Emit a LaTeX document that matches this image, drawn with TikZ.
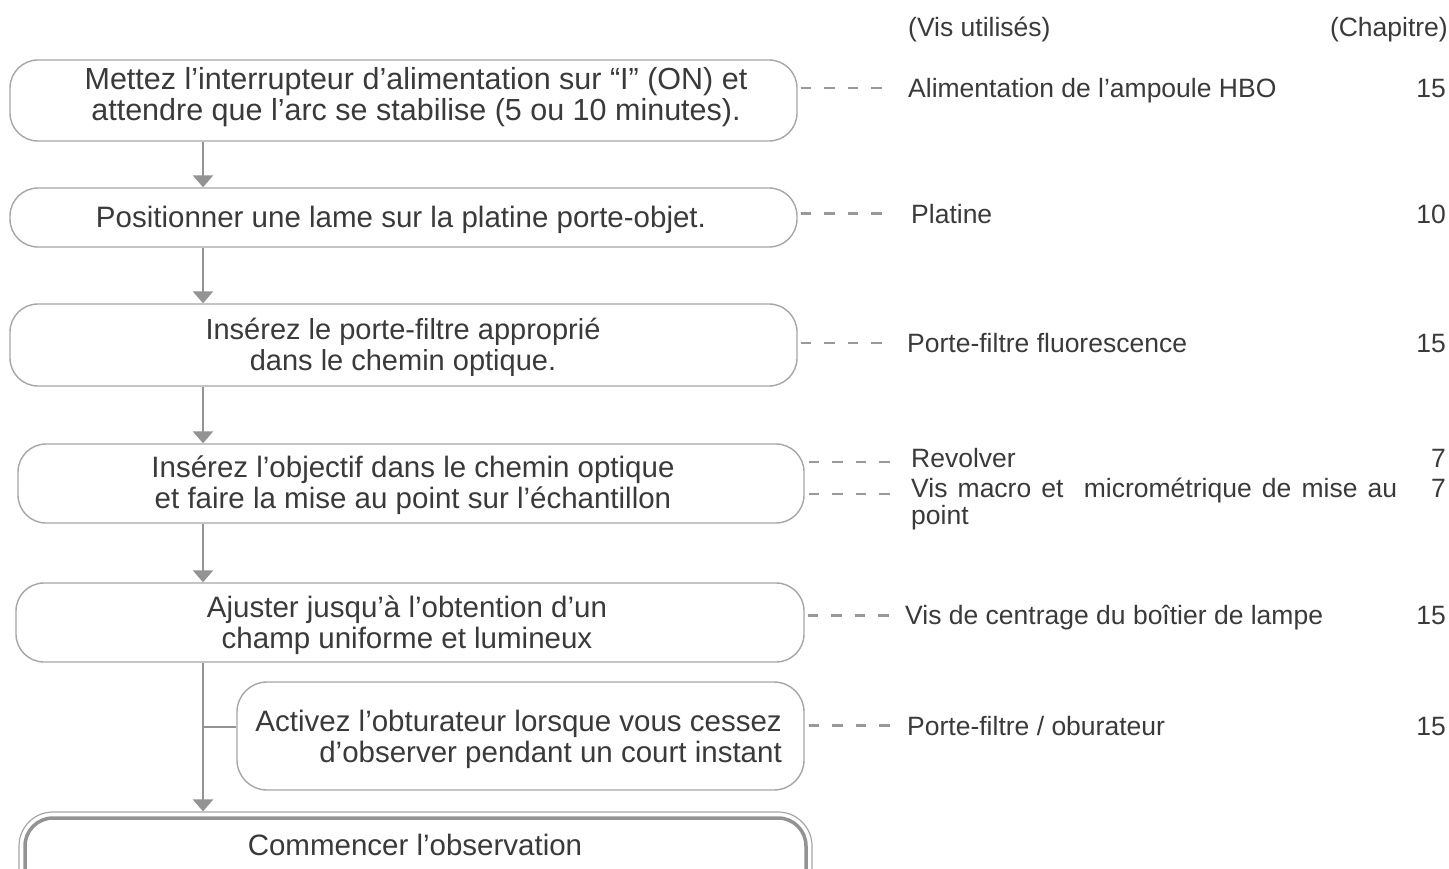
\documentclass[tikz,border=0pt]{standalone}
\usepackage{fontspec}
\setmainfont{Liberation Sans}
\usetikzlibrary{arrows.meta}
\definecolor{txt}{HTML}{3A3A3A}
\definecolor{boxline}{HTML}{A6A6A6}
\definecolor{arrcol}{HTML}{939393}
\definecolor{dashcol}{HTML}{999999}
\begin{document}
\begin{tikzpicture}[x=1pt,y=-1pt,
  box/.style={draw=boxline, line width=1.4pt, rounded corners=28pt, inner sep=0pt},
  lefttxt/.style={text=txt, font=\fontsize{29.5}{31}\selectfont, align=center, inner sep=0pt},
  onetxt/.style={lefttxt, text height=21.5pt, text depth=6pt},
  lbl/.style={text=txt, font=\fontsize{26.5}{29}\selectfont, inner sep=0pt, anchor=west, text height=19.5pt, text depth=5.5pt},
  chap/.style={lbl, anchor=east},
  flow/.style={draw=arrcol, line width=2.5pt, -{Triangle[width=20pt,length=12pt]}},
  flowline/.style={draw=arrcol, line width=2.5pt},
  link/.style={draw=dashcol, line width=2.6pt, dash pattern=on 10.5pt off 13pt}
]
\useasboundingbox (0,0) rectangle (1449,869);
\clip (0,0) rectangle (1449,869);
\fill[white] (0,0) rectangle (1449,869);

% boxes
\node[box, minimum width=787pt, minimum height=81pt] (b1) at (403.5,100.5) {};
\node[box, minimum width=787pt, minimum height=59pt] (b2) at (403.5,217.5) {};
\node[box, minimum width=787pt, minimum height=82pt] (b3) at (403.5,345) {};
\node[box, minimum width=786pt, minimum height=79pt] (b4) at (411,483.5) {};
\node[box, minimum width=788pt, minimum height=79pt] (b5) at (410,622.5) {};
\node[box, minimum width=567pt, minimum height=108pt, rounded corners=30pt] (b6) at (520.5,736) {};
\node[box, line width=1.2pt, minimum width=793pt, minimum height=100pt, rounded corners=34pt] (b7) at (415.5,862) {};
\node[draw=arrcol, line width=3.5pt, rounded corners=28pt, inner sep=0pt, minimum width=781pt, minimum height=90pt] (b7in) at (415.5,863) {};

% box texts
\node[lefttxt, font=\fontsize{30.5}{31}\selectfont] (t1) at (416,97) {Mettez l’interrupteur d’alimentation sur “I” (ON) et\\attendre que l’arc se stabilise (5 ou 10 minutes).};
\node[onetxt] (t2) at (401,219.5) {Positionner une lame sur la platine porte-objet.};
\node[lefttxt, font=\fontsize{29}{31}\selectfont] (t3) at (403,347.5) {Insérez le porte-filtre approprié\\dans le chemin optique.};
\node[lefttxt] (t4) at (413,485) {Insérez l’objectif dans le chemin optique\\et faire la mise au point sur l’échantillon};
\node[lefttxt] (t5) at (407,625.5) {Ajuster jusqu’à l’obtention d’un\\champ uniforme et lumineux};
\node[lefttxt, align=right, anchor=east] (t6) at (782,739.5) {Activez l’obturateur lorsque vous cessez\\d’observer pendant un court instant};
\node[onetxt] (t7) at (415,848) {Commencer l’observation};

% headers
\node[lbl] (h1) at (908,29.5) {(Vis utilisés)};
\node[chap] (h2) at (1448,29.5) {(Chapitre)};

% right labels
\node[lbl] (r1) at (908,90.5) {Alimentation de l’ampoule HBO};
\node[lbl] (r2) at (911,216.5) {Platine};
\node[lbl] (r3) at (907,345.5) {Porte-filtre fluorescence};
\node[lbl] (r4) at (911,460) {Revolver};
\node[lbl] (r5) at (911,490.5) {\makebox[486pt][s]{Vis macro et \ micrométrique de mise au}};
\node[lbl] (r5b) at (911,517) {point};
\node[lbl] (r6) at (905,617.5) {Vis de centrage du boîtier de lampe};
\node[lbl] (r7) at (907,728.5) {Porte-filtre / oburateur};

\node[chap] (c1) at (1446,90.5) {15};
\node[chap] (c2) at (1446,216.5) {10};
\node[chap] (c3) at (1446,345.5) {15};
\node[chap] (c4) at (1446,460) {7};
\node[chap] (c5) at (1446,490.5) {7};
\node[chap] (c6) at (1446,617.5) {15};
\node[chap] (c7) at (1446,728.5) {15};

% dashed link end points
\coordinate (d1) at ([xshift=-20pt,yshift=2.5pt]r1.west);
\coordinate (d2) at ([xshift=-22pt,yshift=3pt]r2.west);
\coordinate (d3) at ([xshift=-18pt,yshift=2.5pt]r3.west);
\coordinate (d4) at ([xshift=-18pt,yshift=-2pt]r4.west);
\coordinate (d5) at ([xshift=-18pt,yshift=-3.5pt]r5.west);
\coordinate (d6) at ([xshift=-14pt,yshift=2pt]r6.west);
\coordinate (d7) at ([xshift=-14pt,yshift=3pt]r7.west);
\coordinate (e1) at ([xshift=3pt]b1.east);
\coordinate (e2) at ([xshift=3pt]b2.east);
\coordinate (e3) at ([xshift=3pt]b3.east);
\coordinate (e4) at ([xshift=4pt]b4.east);
\coordinate (e5) at ([xshift=3pt]b5.east);
\coordinate (e6) at ([xshift=4pt]b6.east);
\draw[link] (e1 |- d1) -- (d1);
\draw[link] (e2 |- d2) -- (d2);
\draw[link] (e3 |- d3) -- (d3);
\draw[link] (e4 |- d4) -- (d4);
\draw[link] (e4 |- d5) -- (d5);
\draw[link] (e5 |- d6) -- (d6);
\draw[link] (e6 |- d7) -- (d7);

% flow arrows
\coordinate (ax) at (203,0);
\coordinate (br) at ([yshift=9pt]b6.west);
\draw[flow] (b1.south -| ax) -- (b2.north -| ax);
\draw[flow] (b2.south -| ax) -- (b3.north -| ax);
\draw[flow] (b3.south -| ax) -- (b4.north -| ax);
\draw[flow] (b4.south -| ax) -- (b5.north -| ax);
\draw[flow] (b5.south -| ax) -- (b7.north -| ax);
\draw[flowline] (ax |- br) -- (br);
\end{tikzpicture}
\end{document}
